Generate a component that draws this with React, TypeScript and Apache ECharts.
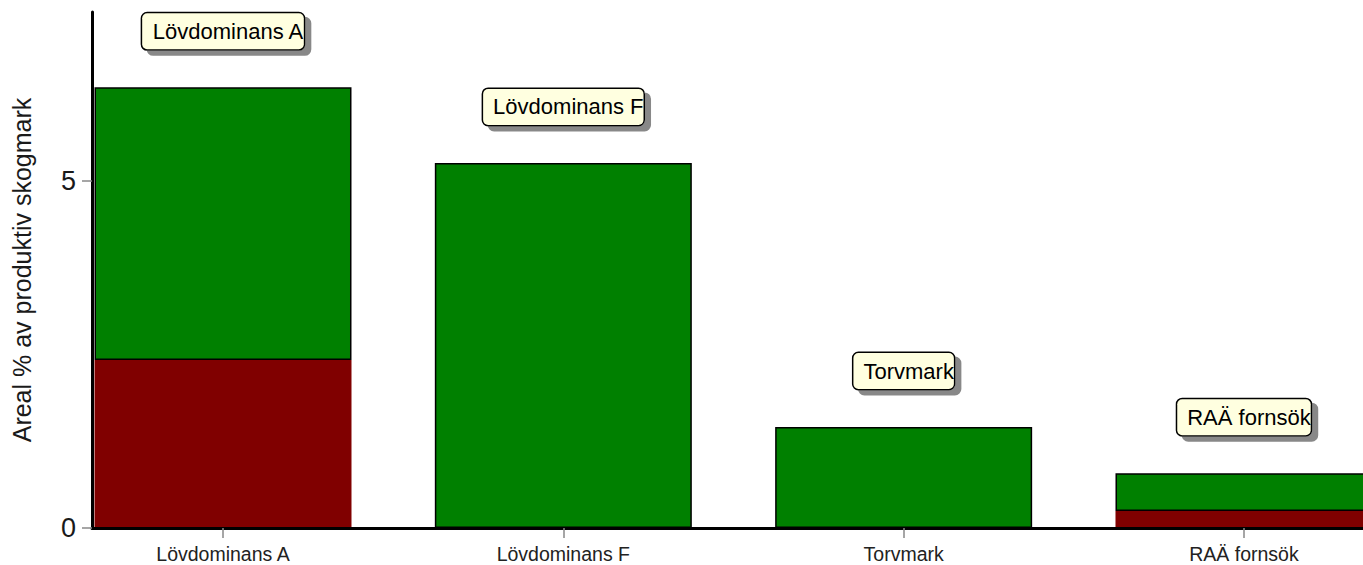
import React, { useEffect, useRef } from "react";
import * as echarts from "echarts";

const categories = ["Lövdominans A", "Lövdominans F", "Torvmark", "RAÄ fornsök"];
const boxLabels = ["Lövdominans A", "Lövdominans F", "Torvmark", "RAÄ fornsök"];
const totalValues = [6.35, 5.26, 1.455, 0.79];
const redValues = [2.42, 0, 0, 0.245];
const yTicks = [0, 5];
const yTitle = "Areal % av produktiv skogmark";

const FONT = "'Liberation Sans', Arial, sans-serif";

export default function App() {
  const ref = useRef<HTMLDivElement>(null);
  useEffect(() => {
    document.body.style.margin = "0";
    const chart = echarts.init(ref.current!, null, { renderer: "svg" });
    const idx = categories.map((_, i) => i);
    const greenValues = totalValues.map((t, i) => +(t - redValues[i]).toFixed(4));
    chart.setOption({
      animation: false,
      textStyle: { fontFamily: FONT },
      grid: { left: 92, right: 0, top: 12, bottom: 37 },
      xAxis: {
        type: "value",
        min: -0.3849,
        max: 3.3497,
        z: 5,
        axisLine: { show: true, onZero: false, lineStyle: { color: "#000", width: 3 } },
        axisTick: { show: true, customValues: idx, length: 10, lineStyle: { color: "#888", width: 1.5 } },
        axisLabel: {
          customValues: idx,
          formatter: (v: number) => categories[Math.round(v)] ?? "",
          fontSize: 19.5,
          color: "#222",
          margin: 16,
          fontFamily: FONT,
        },
        splitLine: { show: false },
      },
      yAxis: {
        type: "value",
        min: 0,
        max: 7.435,
        interval: 5,
        z: 5,
        name: yTitle,
        nameLocation: "middle",
        nameGap: 58,
        nameTextStyle: { fontSize: 25, color: "#1a1a1a", fontFamily: FONT },
        axisLine: { show: true, onZero: false, lineStyle: { color: "#000", width: 3 } },
        axisTick: { show: true, customValues: yTicks, length: 10, lineStyle: { color: "#888", width: 1.5 } },
        axisLabel: { customValues: yTicks, fontSize: 27, color: "#1a1a1a", margin: 16, fontFamily: FONT },
        splitLine: {
          show: true,
          showMinLine: false,
          showMaxLine: false,
          lineStyle: { color: "#cccccc", width: 1.5 },
        },
      },
      series: [
        {
          type: "bar",
          stack: "s",
          barWidth: 257,
          clip: false,
          encode: { x: 1, y: 0 },
          data: idx.map((i) => [redValues[i], i]),
          itemStyle: { color: "#800000" },
        },
        {
          type: "bar",
          stack: "s",
          barWidth: 257,
          clip: false,
          encode: { x: 1, y: 0 },
          data: idx.map((i) => [greenValues[i], i]),
          itemStyle: { color: "#008000", borderColor: "#000", borderWidth: 1.5 },
          label: {
            show: true,
            position: "top",
            distance: 38,
            formatter: (p: any) => boxLabels[p.dataIndex],
            fontSize: 22,
            lineHeight: 22,
            color: "#000",
            fontFamily: FONT,
            backgroundColor: "#FFFFE0",
            borderColor: "#000",
            borderWidth: 1.5,
            borderRadius: 5,
            padding: [7, 0, 7, 10],
            shadowColor: "#888",
            shadowBlur: 0,
            shadowOffsetX: 6,
            shadowOffsetY: 5,
          },
        },
      ],
    });
    return () => chart.dispose();
  }, []);
  return <div ref={ref} style={{ width: 1363, height: 565 }} />;
}
